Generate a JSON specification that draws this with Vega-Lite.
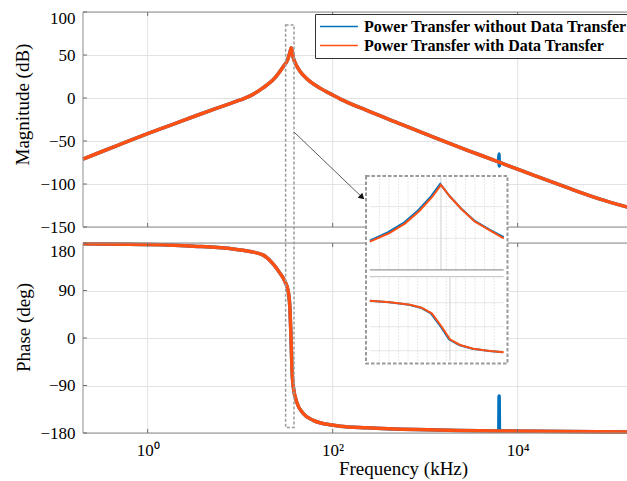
{
"$schema": "https://vega.github.io/schema/vega-lite/v6.json",
"width": 544, "height": 421,
"autosize": "none",
"padding": {"left": 83, "top": 12, "right": 0, "bottom": 48},
"background": "white",
"config": {"view": {"stroke": null}, "font": "Liberation Serif"},
"datasets": {
 "magO": [{"f":0.2,"v":-71},{"f":0.316,"v":-62.5},{"f":0.562,"v":-52},{"f":1,"v":-41.5},{"f":1.78,"v":-31.5},{"f":3.16,"v":-21.5},{"f":5.62,"v":-11.8},{"f":7.76,"v":-6.6},{"f":10,"v":-2.3},{"f":12.8,"v":2.5},{"f":17.8,"v":12},{"f":24,"v":24},{"f":28.8,"v":35.5},{"f":32.7,"v":45},{"f":34.5,"v":52.9},{"f":35.7,"v":58.5},{"f":37.5,"v":47},{"f":40.8,"v":37.5},{"f":44.7,"v":30.5},{"f":52.5,"v":22.5},{"f":73,"v":11.5},{"f":100,"v":3.5},{"f":120,"v":-1},{"f":234,"v":-14.5},{"f":537,"v":-30},{"f":1230,"v":-45.5},{"f":2818,"v":-60.5},{"f":5600,"v":-72.5},{"f":6200,"v":-74.3},{"f":6420,"v":-75},{"f":7000,"v":-76.5},{"f":14790,"v":-89.8},{"f":33900,"v":-104},{"f":77600,"v":-117.5},{"f":155000,"v":-127}],
 "magB": [{"f":0.2,"v":-71},{"f":0.316,"v":-62.5},{"f":0.562,"v":-52},{"f":1,"v":-41.5},{"f":1.78,"v":-31.5},{"f":3.16,"v":-21.5},{"f":5.62,"v":-11.8},{"f":7.76,"v":-6.6},{"f":10,"v":-2.3},{"f":12.8,"v":2.5},{"f":17.8,"v":12},{"f":24,"v":24},{"f":28.8,"v":35.5},{"f":32.7,"v":45},{"f":34.5,"v":52.9},{"f":35.7,"v":58.5},{"f":37.5,"v":47},{"f":40.8,"v":37.5},{"f":44.7,"v":30.5},{"f":52.5,"v":22.5},{"f":73,"v":11.5},{"f":100,"v":3.5},{"f":120,"v":-1},{"f":234,"v":-14.5},{"f":537,"v":-30},{"f":1230,"v":-45.5},{"f":2818,"v":-60.5},{"f":5600,"v":-72.5},{"f":6200,"v":-74.3},{"f":6290,"v":-65},{"f":6320,"v":-79},{"f":6420,"v":-75},{"f":7000,"v":-76.5},{"f":14790,"v":-89.8},{"f":33900,"v":-104},{"f":77600,"v":-117.5},{"f":155000,"v":-127}],
 "phO": [{"f":0.2,"v":178.5},{"f":1,"v":177},{"f":3.16,"v":174},{"f":7.76,"v":169.5},{"f":12.8,"v":164},{"f":17.8,"v":157},{"f":22.8,"v":140},{"f":26.9,"v":123},{"f":30.5,"v":107},{"f":33.1,"v":88},{"f":34.5,"v":56},{"f":35.4,"v":6},{"f":36.3,"v":-58},{"f":37.5,"v":-92},{"f":40.8,"v":-121},{"f":48.1,"v":-143},{"f":61.7,"v":-156},{"f":93.3,"v":-164.5},{"f":120,"v":-167},{"f":234,"v":-170},{"f":794,"v":-173.5},{"f":6250,"v":-176},{"f":6350,"v":-176},{"f":155000,"v":-178}],
 "phB": [{"f":0.2,"v":178.5},{"f":1,"v":177},{"f":3.16,"v":174},{"f":7.76,"v":169.5},{"f":12.8,"v":164},{"f":17.8,"v":157},{"f":22.8,"v":140},{"f":26.9,"v":123},{"f":30.5,"v":107},{"f":33.1,"v":88},{"f":34.5,"v":56},{"f":35.4,"v":6},{"f":36.3,"v":-58},{"f":37.5,"v":-92},{"f":40.8,"v":-121},{"f":48.1,"v":-143},{"f":61.7,"v":-156},{"f":93.3,"v":-164.5},{"f":120,"v":-167},{"f":234,"v":-170},{"f":794,"v":-173.5},{"f":6250,"v":-176},{"f":6300,"v":-110},{"f":6350,"v":-176},{"f":155000,"v":-178}],
 "inMagO": [{"f":33.0,"v":28.4},{"f":34.0,"v":32.4},{"f":34.85,"v":37.1},{"f":35.6,"v":43.1},{"f":36.25,"v":49.5},{"f":36.72,"v":55.3},{"f":37.2,"v":49.7},{"f":37.8,"v":43.8},{"f":38.5,"v":37.9},{"f":39.3,"v":33.6},{"f":40.0,"v":30.0}],
 "inMagB": [{"f":33.0,"v":28.9},{"f":33.96,"v":32.9},{"f":34.81,"v":37.6},{"f":35.56,"v":43.6},{"f":36.21,"v":50.0},{"f":36.68,"v":55.8},{"f":37.16,"v":50.2},{"f":37.76,"v":44.3},{"f":38.46,"v":38.4},{"f":39.26,"v":34.1},{"f":40.0,"v":30.5}],
 "inPhO": [{"f":33.0,"v":97.5},{"f":34.06,"v":91.5},{"f":35.1,"v":82.5},{"f":35.71,"v":71.3},{"f":36.24,"v":50.3},{"f":36.76,"v":0},{"f":37.19,"v":-47.3},{"f":37.72,"v":-68.6},{"f":38.41,"v":-82.5},{"f":39.29,"v":-91.1},{"f":40.0,"v":-96}],
 "inPhB": [{"f":33.0,"v":97.5},{"f":34.01,"v":91.5},{"f":35.05,"v":82.5},{"f":35.66,"v":71.3},{"f":36.19,"v":50.3},{"f":36.71,"v":0},{"f":37.14,"v":-47.3},{"f":37.67,"v":-68.6},{"f":38.36,"v":-82.5},{"f":39.24,"v":-91.1},{"f":39.95,"v":-96}],
 "inGrid": [{"f":33.5},{"f":34},{"f":34.5},{"f":35},{"f":35.5},{"f":36},{"f":36.5},{"f":37},{"f":37.5},{"f":38},{"f":38.5},{"f":39},{"f":39.5}],
 "xTicks": [{"f":1},{"f":100},{"f":10000}],
 "magTicks": [{"v":-150},{"v":-100},{"v":-50},{"v":0},{"v":50},{"v":100}],
 "phTicks": [{"v":-180},{"v":-90},{"v":0},{"v":90},{"v":180}]
},
"resolve": {"scale": {"x": "independent", "y": "independent"}},
"layer": [
  {"data": {"name":"xTicks"}, "mark": {"type":"rule","color":"#e3e3e3","strokeWidth":1},
   "encoding": {"x": {"field":"f","type":"quantitative","scale":{"type":"log","domain":[0.2,152000],"nice":false},"axis":null},
                "y": {"datum":-150,"type":"quantitative","scale":{"domain":[-150,100],"range":[215,0],"nice":false,"zero":false},"axis":null},
                "y2": {"datum":100}}},
  {"data": {"name":"xTicks"}, "mark": {"type":"rule","color":"#e3e3e3","strokeWidth":1},
   "encoding": {"x": {"field":"f","type":"quantitative","scale":{"type":"log","domain":[0.2,152000],"nice":false},"axis":null},
                "y": {"datum":-180,"type":"quantitative","scale":{"domain":[-180,180],"range":[421,231],"nice":false,"zero":false},"axis":null},
                "y2": {"datum":180}}},
  {"data": {"name":"magB"}, "mark": {"type":"line","strokeWidth":3.5,"interpolate":"monotone","strokeJoin":"round"},
   "encoding": {"x": {"field":"f","type":"quantitative","scale":{"type":"log","domain":[0.2,152000],"nice":false},"axis":null},
                "y": {"field":"v","type":"quantitative","scale":{"domain":[-150,100],"range":[215,0],"nice":false,"zero":false},
                      "axis":{"orient":"left","values":[-150,-100,-50,0,50,100],"grid":true,"gridColor":"#e3e3e3","gridWidth":1,"domain":false,"ticks":false,"labelFont":"Liberation Serif","labelFontSize":17,"labelColor":"#000","labelPadding":8,"labelOverlap":false,"labelOffset":{"condition":{"test":"datum.value == 100","value":6},"value":0},"title":"Magnitude (dB)","titleFont":"Liberation Serif","titleFontSize":19,"titleFontWeight":"normal","titleColor":"#000","titlePadding":7,"titleY":92}},
                "color": {"datum":"Power Transfer without Data Transfer","type":"nominal","scale":{"domain":["Power Transfer without Data Transfer","Power Transfer with Data Transfer"],"range":["#0072BD","#FF5014"]},
                          "legend":{"orient":"none","legendX":232,"legendY":2,"direction":"vertical","title":null,"symbolType":"M-1,0H4","symbolSize":231,"symbolStrokeWidth":1.5,"labelFont":"Liberation Serif","labelFontSize":16,"labelFontWeight":"bold","labelColor":"#000","labelOffset":28,"labelLimit":400,"padding":4,"rowPadding":2,"strokeColor":"#333","fillColor":"white","zindex":1}}}},
  {"data": {"name":"magO"}, "mark": {"type":"line","strokeWidth":3.5,"interpolate":"monotone","strokeJoin":"round"},
   "encoding": {"x": {"field":"f","type":"quantitative","scale":{"type":"log","domain":[0.2,152000],"nice":false},"axis":null},
                "y": {"field":"v","type":"quantitative","scale":{"domain":[-150,100],"range":[215,0],"nice":false,"zero":false},"axis":null},
                "color": {"datum":"Power Transfer with Data Transfer","type":"nominal","scale":{"domain":["Power Transfer without Data Transfer","Power Transfer with Data Transfer"],"range":["#0072BD","#FF5014"]},"legend":null}}},
  {"data": {"name":"phB"}, "mark": {"type":"line","strokeWidth":3.5,"interpolate":"monotone","strokeJoin":"round"},
   "encoding": {"x": {"field":"f","type":"quantitative","scale":{"type":"log","domain":[0.2,152000],"nice":false},"axis":null},
                "y": {"field":"v","type":"quantitative","scale":{"domain":[-180,180],"range":[421,231],"nice":false,"zero":false},
                      "axis":{"orient":"left","values":[-180,-90,0,90,180],"grid":true,"gridColor":"#e3e3e3","gridWidth":1,"domain":false,"ticks":false,"labelFont":"Liberation Serif","labelFontSize":17,"labelColor":"#000","labelPadding":8,"labelOverlap":false,"labelOffset":{"condition":{"test":"datum.value == 180","value":8},"value":0},"title":"Phase (deg)","titleFont":"Liberation Serif","titleFontSize":19,"titleFontWeight":"normal","titleColor":"#000","titlePadding":6,"titleY":315}},
                "color": {"datum":"Power Transfer without Data Transfer","type":"nominal","scale":{"domain":["Power Transfer without Data Transfer","Power Transfer with Data Transfer"],"range":["#0072BD","#FF5014"]},"legend":null}}},
  {"data": {"name":"phO"}, "mark": {"type":"line","strokeWidth":3.5,"interpolate":"monotone","strokeJoin":"round"},
   "encoding": {"x": {"field":"f","type":"quantitative","scale":{"type":"log","domain":[0.2,152000],"nice":false},
                      "axis":{"orient":"bottom","values":[1,100,10000],"labelExpr":"datum.value == 1 ? '10⁰' : datum.value == 100 ? '10²' : '10⁴'","grid":false,"ticks":false,"domain":false,"labelFont":"Liberation Serif","labelFontSize":17,"labelColor":"#000","labelPadding":9,"title":"Frequency (kHz)","titleFont":"Liberation Serif","titleFontSize":19,"titleFontWeight":"normal","titleColor":"#000","titlePadding":1,"titleX":320}},
                "y": {"field":"v","type":"quantitative","scale":{"domain":[-180,180],"range":[421,231],"nice":false,"zero":false},"axis":null},
                "color": {"datum":"Power Transfer with Data Transfer","type":"nominal","scale":{"domain":["Power Transfer without Data Transfer","Power Transfer with Data Transfer"],"range":["#0072BD","#FF5014"]},"legend":null}}},
  {"data": {"values": [{}]}, "mark": {"type":"rect","fill":"transparent","stroke":"#8c8c8c","strokeWidth":1},
   "encoding": {"x": {"datum":0.2,"type":"quantitative","scale":{"type":"log","domain":[0.2,152000],"nice":false},"axis":null},"x2":{"datum":300000},
                "y": {"datum":-150,"type":"quantitative","scale":{"domain":[-150,100],"range":[215,0],"nice":false,"zero":false},"axis":null},"y2":{"datum":100}}},
  {"data": {"values": [{}]}, "mark": {"type":"rect","fill":"transparent","stroke":"#8c8c8c","strokeWidth":1},
   "encoding": {"x": {"datum":0.2,"type":"quantitative","scale":{"type":"log","domain":[0.2,152000],"nice":false},"axis":null},"x2":{"datum":300000},
                "y": {"datum":-180,"type":"quantitative","scale":{"domain":[-180,180],"range":[421,231],"nice":false,"zero":false},"axis":null},"y2":{"datum":180}}},
  {"data": {"name":"xTicks"}, "mark": {"type":"rule","color":"#707070","strokeWidth":1},
   "encoding": {"x": {"field":"f","type":"quantitative","scale":{"type":"log","domain":[0.2,152000],"nice":false},"axis":null},
                "y": {"datum":-150,"type":"quantitative","scale":{"domain":[-150,100],"range":[215,0],"nice":false,"zero":false},"axis":null},"y2":{"datum":-145.3}}},
  {"data": {"name":"xTicks"}, "mark": {"type":"rule","color":"#707070","strokeWidth":1},
   "encoding": {"x": {"field":"f","type":"quantitative","scale":{"type":"log","domain":[0.2,152000],"nice":false},"axis":null},
                "y": {"datum":100,"type":"quantitative","scale":{"domain":[-150,100],"range":[215,0],"nice":false,"zero":false},"axis":null},"y2":{"datum":95.3}}},
  {"data": {"name":"xTicks"}, "mark": {"type":"rule","color":"#707070","strokeWidth":1},
   "encoding": {"x": {"field":"f","type":"quantitative","scale":{"type":"log","domain":[0.2,152000],"nice":false},"axis":null},
                "y": {"datum":-180,"type":"quantitative","scale":{"domain":[-180,180],"range":[421,231],"nice":false,"zero":false},"axis":null},"y2":{"datum":-172.4}}},
  {"data": {"name":"xTicks"}, "mark": {"type":"rule","color":"#707070","strokeWidth":1},
   "encoding": {"x": {"field":"f","type":"quantitative","scale":{"type":"log","domain":[0.2,152000],"nice":false},"axis":null},
                "y": {"datum":180,"type":"quantitative","scale":{"domain":[-180,180],"range":[421,231],"nice":false,"zero":false},"axis":null},"y2":{"datum":172.4}}},
  {"data": {"name":"magTicks"}, "mark": {"type":"rule","color":"#707070","strokeWidth":1},
   "encoding": {"x": {"datum":0.2,"type":"quantitative","scale":{"type":"log","domain":[0.2,152000],"nice":false},"axis":null},"x2":{"datum":0.221},
                "y": {"field":"v","type":"quantitative","scale":{"domain":[-150,100],"range":[215,0],"nice":false,"zero":false},"axis":null}}},
  {"data": {"name":"phTicks"}, "mark": {"type":"rule","color":"#707070","strokeWidth":1},
   "encoding": {"x": {"datum":0.2,"type":"quantitative","scale":{"type":"log","domain":[0.2,152000],"nice":false},"axis":null},"x2":{"datum":0.221},
                "y": {"field":"v","type":"quantitative","scale":{"domain":[-180,180],"range":[421,231],"nice":false,"zero":false},"axis":null}}},
  {"data": {"values": [{}]}, "mark": {"type":"rect","fill":"transparent","stroke":"#9a9a9a","strokeWidth":1.5,"strokeDash":[3,2]},
   "encoding": {"x": {"datum":31.0,"type":"quantitative","scale":{"type":"log","domain":[0.2,152000],"nice":false},"axis":null},"x2":{"datum":38.2},
                "y": {"datum":85,"type":"quantitative","scale":{"domain":[-150,100],"range":[215,0],"nice":false,"zero":false},"axis":null},"y2":{"datum":-383}}},
  {"data": {"values": [{}]}, "mark": {"type":"rule","color":"#333","strokeWidth":0.8},
   "encoding": {"x": {"datum":38.5,"type":"quantitative","scale":{"type":"log","domain":[0.2,152000],"nice":false},"axis":null},"x2":{"datum":208},
                "y": {"datum":-39.9,"type":"quantitative","scale":{"domain":[-150,100],"range":[215,0],"nice":false,"zero":false},"axis":null},"y2":{"datum":-115.4}}},
  {"data": {"values": [{}]}, "mark": {"type":"point","shape":"triangle-right","angle":43.8,"size":45,"filled":true,"color":"#111","opacity":1},
   "encoding": {"x": {"datum":208,"type":"quantitative","scale":{"type":"log","domain":[0.2,152000],"nice":false},"axis":null},
                "y": {"datum":-115.4,"type":"quantitative","scale":{"domain":[-150,100],"range":[215,0],"nice":false,"zero":false},"axis":null}}},
  {"data": {"values": [{}]}, "mark": {"type":"rect","fill":"white","stroke":"#9a9a9a","strokeWidth":2,"strokeDash":[3.5,2]},
   "encoding": {"x": {"datum":32.8,"type":"quantitative","scale":{"domain":[32.8,40.2],"range":[283,424.5],"nice":false,"zero":false},"axis":null},"x2":{"datum":40.2},
                "y": {"datum":-29.4,"type":"quantitative","scale":{"domain":[15,60],"range":[257.9,163.1],"nice":false,"zero":false},"axis":null},"y2":{"datum":59.6}}},
  {"data": {"values": [{"v":30},{"v":45}]}, "mark": {"type":"rule","color":"#e6e6e6","strokeWidth":1},
   "encoding": {"x": {"datum":33,"type":"quantitative","scale":{"domain":[32.8,40.2],"range":[283,424.5],"nice":false,"zero":false},"axis":null},"x2":{"datum":40},
                "y": {"field":"v","type":"quantitative","scale":{"domain":[15,60],"range":[257.9,163.1],"nice":false,"zero":false},"axis":null}}},
  {"data": {"name":"inGrid"}, "mark": {"type":"rule","color":"#d9d9d9","strokeWidth":0.8,"strokeDash":[1.5,1.5]},
   "encoding": {"x": {"field":"f","type":"quantitative","scale":{"domain":[32.8,40.2],"range":[283,424.5],"nice":false,"zero":false},"axis":null},
                "y": {"datum":15,"type":"quantitative","scale":{"domain":[15,60],"range":[257.9,163.1],"nice":false,"zero":false},"axis":null},"y2":{"datum":59}}},
  {"data": {"values": [{"f":36.72}]}, "mark": {"type":"rule","color":"#d0d0d0","strokeWidth":1},
   "encoding": {"x": {"field":"f","type":"quantitative","scale":{"domain":[32.8,40.2],"range":[283,424.5],"nice":false,"zero":false},"axis":null},
                "y": {"datum":15,"type":"quantitative","scale":{"domain":[15,60],"range":[257.9,163.1],"nice":false,"zero":false},"axis":null},"y2":{"datum":59}}},
  {"data": {"values": [{}]}, "mark": {"type":"rule","color":"#808080","strokeWidth":1},
   "encoding": {"x": {"datum":33,"type":"quantitative","scale":{"domain":[32.8,40.2],"range":[283,424.5],"nice":false,"zero":false},"axis":null},"x2":{"datum":40},
                "y": {"datum":15,"type":"quantitative","scale":{"domain":[15,60],"range":[257.9,163.1],"nice":false,"zero":false},"axis":null}}},
  {"data": {"name":"inMagB"}, "mark": {"type":"line","strokeWidth":2},
   "encoding": {"x": {"field":"f","type":"quantitative","scale":{"domain":[32.8,40.2],"range":[283,424.5],"nice":false,"zero":false},"axis":null},
                "y": {"field":"v","type":"quantitative","scale":{"domain":[15,60],"range":[257.9,163.1],"nice":false,"zero":false},"axis":null},
                "color": {"datum":"Power Transfer without Data Transfer","type":"nominal","scale":{"domain":["Power Transfer without Data Transfer","Power Transfer with Data Transfer"],"range":["#0072BD","#FF5014"]},"legend":null}}},
  {"data": {"name":"inMagO"}, "mark": {"type":"line","strokeWidth":2},
   "encoding": {"x": {"field":"f","type":"quantitative","scale":{"domain":[32.8,40.2],"range":[283,424.5],"nice":false,"zero":false},"axis":null},
                "y": {"field":"v","type":"quantitative","scale":{"domain":[15,60],"range":[257.9,163.1],"nice":false,"zero":false},"axis":null},
                "color": {"datum":"Power Transfer with Data Transfer","type":"nominal","scale":{"domain":["Power Transfer without Data Transfer","Power Transfer with Data Transfer"],"range":["#0072BD","#FF5014"]},"legend":null}}},
  {"data": {"values": [{}]}, "mark": {"type":"rule","color":"#bdbdbd","strokeWidth":1},
   "encoding": {"x": {"datum":33,"type":"quantitative","scale":{"domain":[32.8,40.2],"range":[283,424.5],"nice":false,"zero":false},"axis":null},"x2":{"datum":40},
                "y": {"datum":187.5,"type":"quantitative","scale":{"domain":[-135,187.5],"range":[350.7,264.7],"nice":false,"zero":false},"axis":null}}},
  {"data": {"values": [{"v":90},{"v":0},{"v":-90}]}, "mark": {"type":"rule","color":"#e6e6e6","strokeWidth":1},
   "encoding": {"x": {"datum":33,"type":"quantitative","scale":{"domain":[32.8,40.2],"range":[283,424.5],"nice":false,"zero":false},"axis":null},"x2":{"datum":40},
                "y": {"field":"v","type":"quantitative","scale":{"domain":[-135,187.5],"range":[350.7,264.7],"nice":false,"zero":false},"axis":null}}},
  {"data": {"name":"inGrid"}, "mark": {"type":"rule","color":"#d9d9d9","strokeWidth":0.8,"strokeDash":[1.5,1.5]},
   "encoding": {"x": {"field":"f","type":"quantitative","scale":{"domain":[32.8,40.2],"range":[283,424.5],"nice":false,"zero":false},"axis":null},
                "y": {"datum":-128,"type":"quantitative","scale":{"domain":[-135,187.5],"range":[350.7,264.7],"nice":false,"zero":false},"axis":null},"y2":{"datum":187.5}}},
  {"data": {"values": [{"f":37.19}]}, "mark": {"type":"rule","color":"#d0d0d0","strokeWidth":1},
   "encoding": {"x": {"field":"f","type":"quantitative","scale":{"domain":[32.8,40.2],"range":[283,424.5],"nice":false,"zero":false},"axis":null},
                "y": {"datum":-128,"type":"quantitative","scale":{"domain":[-135,187.5],"range":[350.7,264.7],"nice":false,"zero":false},"axis":null},"y2":{"datum":187.5}}},
  {"data": {"name":"inPhB"}, "mark": {"type":"line","strokeWidth":2},
   "encoding": {"x": {"field":"f","type":"quantitative","scale":{"domain":[32.8,40.2],"range":[283,424.5],"nice":false,"zero":false},"axis":null},
                "y": {"field":"v","type":"quantitative","scale":{"domain":[-135,187.5],"range":[350.7,264.7],"nice":false,"zero":false},"axis":null},
                "color": {"datum":"Power Transfer without Data Transfer","type":"nominal","scale":{"domain":["Power Transfer without Data Transfer","Power Transfer with Data Transfer"],"range":["#0072BD","#FF5014"]},"legend":null}}},
  {"data": {"name":"inPhO"}, "mark": {"type":"line","strokeWidth":2},
   "encoding": {"x": {"field":"f","type":"quantitative","scale":{"domain":[32.8,40.2],"range":[283,424.5],"nice":false,"zero":false},"axis":null},
                "y": {"field":"v","type":"quantitative","scale":{"domain":[-135,187.5],"range":[350.7,264.7],"nice":false,"zero":false},"axis":null},
                "color": {"datum":"Power Transfer with Data Transfer","type":"nominal","scale":{"domain":["Power Transfer without Data Transfer","Power Transfer with Data Transfer"],"range":["#0072BD","#FF5014"]},"legend":null}}}
]
}
